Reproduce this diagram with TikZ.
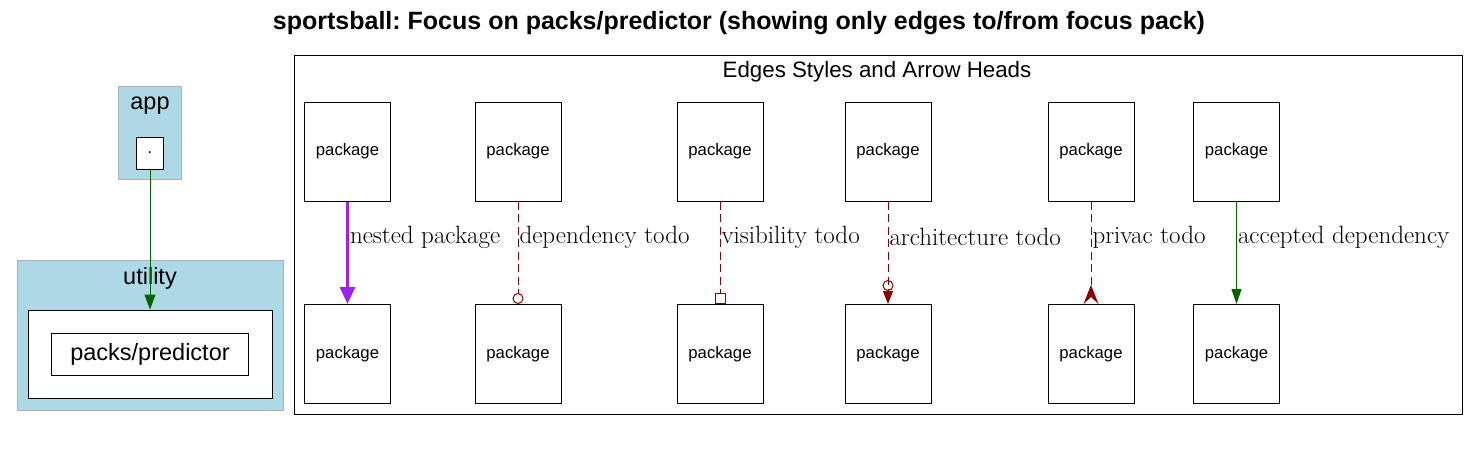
\documentclass[tikz,border=0pt]{standalone}
\usepackage{fontspec}
\setsansfont{Liberation Sans}
\usepackage{tikz}
\usetikzlibrary{positioning,arrows.meta}
\definecolor{clusterblue}{HTML}{ADD8E6}
\definecolor{clustergray}{HTML}{B0B0B0}
\definecolor{todored}{HTML}{8B0000}
\definecolor{okgreen}{HTML}{006400}
\definecolor{nestpurple}{HTML}{A020F0}
\frenchspacing
\begin{document}
\begin{tikzpicture}[x=1pt, y=-1pt,
		pkgbox/.style={draw, line width=1pt, minimum width=86pt, minimum height=99pt, inner sep=0pt, font=\sffamily\fontsize{16.7}{20}\selectfont},
		clusterbox/.style={draw=clustergray, fill=clusterblue, line width=1pt, inner sep=0pt},
		plainbox/.style={draw, fill=white, line width=1pt, inner sep=0pt},
		clusterlabel/.style={font=\sffamily\fontsize{23.5}{28}\selectfont},
		edgelabel/.style={pos=.35, anchor=west, inner sep=1pt, font=\fontsize{25}{29}\selectfont},
		todo/.style={draw=todored, line width=1pt, dash pattern=on 8pt off 4.5pt}]
		\useasboundingbox (0,0) rectangle (1478,461);
		\node(title) at (739,23) [font=\sffamily\bfseries\fontsize{25}{30}\selectfont] {sportsball: Focus on packs/predictor (showing only edges to/from focus pack)};
		\begin{scope}
			\node(app)          at (150,132.5) [clusterbox, minimum width=63pt, minimum height=93pt] {};
			\node(applabel)     at (150,106) [clusterlabel] {app};
			\node(dot)          at (150,153) [plainbox, minimum width=27pt, minimum height=32pt, font=\sffamily\fontsize{16.7}{20}\selectfont] {.};
			\node(utility)      at (150,335) [clusterbox, minimum width=266pt, minimum height=150pt] {};
			\node(utilitylabel) at (150,278) [clusterlabel] {utility};
			\node(focus)        at (150,354) [plainbox, minimum width=244pt, minimum height=88pt] {};
			\node(predictor)    at (150,354) [plainbox, clusterlabel, minimum width=197pt, minimum height=42pt] {packs/predictor};
			\path (dot) edge [draw=okgreen, line width=1pt, -{Triangle[length=15pt, width=11pt]}] (focus);
		\end{scope}
		\begin{scope}
			\node(legend)      at (878,234.5) [draw, line width=1pt, minimum width=1168pt, minimum height=359pt] {};
			\node(legendlabel) at (877,72) [font=\sffamily\fontsize{22.3}{26}\selectfont] {Edges Styles and Arrow Heads};
			\foreach \i/\x in {1/347.5, 2/518, 3/720, 4/888, 5/1091, 6/1236.5} {
				\node(top\i) at (\x,151.5) [pkgbox] {package};
				\node(bot\i) at (\x,354)   [pkgbox] {package};
			}
			\path
				(top1) edge [draw=nestpurple, line width=3pt, -{Triangle[length=17pt, width=15pt]}] node [edgelabel] {nested package} (bot1)
				(top2) edge [todo, -{Circle[open, length=11pt, line width=1pt]}] node [edgelabel] {dependency todo} (bot2)
				(top3) edge [todo, -{Square[open, length=11pt, line width=1pt]}] node [edgelabel] {visibility todo} (bot3)
				(top4) edge [todo, -{Circle[open, length=11pt, line width=1pt] Triangle[length=13pt, width=10pt]}] node [edgelabel] {architecture todo} (bot4)
				(top5) edge [todo, -{Stealth[reversed, length=19pt, width=15pt, inset=7pt]}] node [edgelabel] {privac todo} (bot5)
				(top6) edge [draw=okgreen, line width=1pt, -{Triangle[length=15pt, width=10pt]}] node [edgelabel] {accepted dependency} (bot6);
		\end{scope}
	\end{tikzpicture}
\end{document}
